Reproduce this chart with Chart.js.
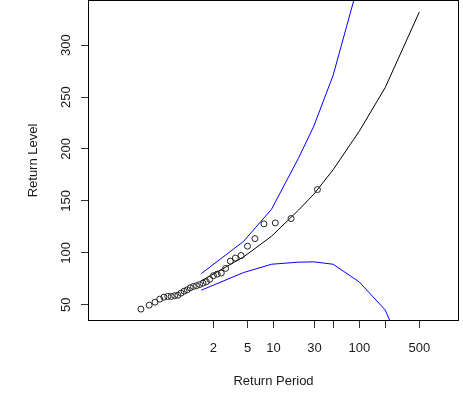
<!DOCTYPE html>
<html>
<head>
<meta charset="utf-8">
<script src="https://cdn.jsdelivr.net/npm/chart.js@4"></script>
<style>
  html, body { margin: 0; padding: 0; background: #fff; }
  #wrap { width: 463px; height: 395px; }
</style>
</head>
<body>
<div id="wrap"><canvas id="rlPlot" width="463" height="395"></canvas></div>
<script>
// return level curve, plotted at -1/log(1 - 1/T) for T = 2, 5, 10, 20, 30, 50, 100, 200, 500
const curvePeriods = [1.443, 4.481, 9.491, 19.496, 29.497, 49.498, 99.499, 199.5, 499.5];
const returnLevel = [73, 96, 116, 141, 156.5, 180, 217, 259, 332];
const upperCI = [80, 111, 142, 191, 222, 271, 362, 473, 694];
const lowerCI = [64, 81, 89, 91, 91.3, 89, 72, 45, -30];

// empirical plotting positions and sorted observations
const empPeriods = [0.286, 0.357, 0.417, 0.474, 0.530, 0.587, 0.645, 0.706, 0.770, 0.838,
  0.910, 0.989, 1.073, 1.166, 1.268, 1.381, 1.508, 1.650, 1.811, 1.997, 2.212, 2.466,
  2.770, 3.140, 3.602, 4.194, 4.983, 6.086, 7.738, 10.492, 15.997, 32.498];
const empLevels = [45.8, 49.6, 52.5, 55.4, 57.3, 58.0, 58.0, 58.7, 59.2, 61.2,
  63.1, 64.4, 66.3, 67.6, 68.3, 69.5, 70.8, 72.1, 74.5, 78.0, 79.5, 80.5,
  85.0, 92.0, 95.0, 97.4, 106.4, 113.7, 127.9, 128.8, 133.0, 160.9];

const xTicks = [2, 5, 10, 30, 50, 100, 200, 500];
const xTickLabels = ["2", "5", "10", "30", "", "100", "", "500"];
const yTicks = [50, 100, 150, 200, 250, 300];

const FONT = "13px 'Liberation Sans', Arial, sans-serif";
const TEXT = "#1a1a1a";

const pairs = (xs, ys) => xs.map((x, i) => ({ x: x, y: ys[i] }));

// R-style frame, rotated y labels and axis titles
const rDecor = {
  id: "rDecor",
  afterDraw(chart) {
    const { ctx, chartArea: a, scales } = chart;
    ctx.save();
    ctx.strokeStyle = "#000";
    ctx.lineWidth = 1;
    ctx.strokeRect(a.left + 0.5, a.top + 0.5, a.right - a.left - 1, a.bottom - a.top - 1);

    ctx.fillStyle = TEXT;
    ctx.font = FONT;
    ctx.textAlign = "center";
    ctx.textBaseline = "alphabetic";
    xTicks.forEach((v, i) => {
      if (!xTickLabels[i]) return;
      ctx.fillText(xTickLabels[i], scales.x.getPixelForValue(v), 351.5);
    });
    ctx.fillText("Return Period", (a.left + a.right) / 2, 384.5);

    yTicks.forEach(v => {
      ctx.save();
      ctx.translate(69.5, scales.y.getPixelForValue(v));
      ctx.rotate(-Math.PI / 2);
      ctx.fillText(String(v), 0, 0);
      ctx.restore();
    });
    ctx.translate(36.5, (a.top + a.bottom) / 2);
    ctx.rotate(-Math.PI / 2);
    ctx.fillText("Return Level", 0, 0);
    ctx.restore();
  }
};

new Chart(document.getElementById("rlPlot"), {
  type: "scatter",
  data: {
    datasets: [
      {
        label: "Observed",
        data: pairs(empPeriods, empLevels),
        showLine: false,
        pointRadius: 3,
        pointBorderWidth: 1,
        pointBackgroundColor: "rgba(0,0,0,0)",
        pointBorderColor: "#222",
      },
      {
        label: "Return level",
        data: pairs(curvePeriods, returnLevel),
        showLine: true,
        pointRadius: 0,
        borderColor: "#000",
        borderWidth: 1,
      },
      {
        label: "Upper 95%",
        data: pairs(curvePeriods, upperCI),
        showLine: true,
        pointRadius: 0,
        borderColor: "#0000ff",
        borderWidth: 1,
      },
      {
        label: "Lower 95%",
        data: pairs(curvePeriods, lowerCI),
        showLine: true,
        pointRadius: 0,
        borderColor: "#0000ff",
        borderWidth: 1,
      },
    ],
  },
  options: {
    responsive: false,
    animation: false,
    devicePixelRatio: 1,
    layout: { autoPadding: false, padding: { top: 0, right: 4, bottom: 0, left: 0 } },
    plugins: {
      legend: { display: false },
      tooltip: { enabled: false },
    },
    scales: {
      x: {
        type: "logarithmic",
        min: 0.0692,
        max: 1445,
        afterBuildTicks: (scale) => { scale.ticks = xTicks.map(v => ({ value: v })); },
        afterFit: (scale) => { scale.height = 74; },
        ticks: { display: false },
        border: { display: false },
        grid: { drawOnChartArea: false, drawTicks: true, tickLength: 7, color: "#333" },
      },
      y: {
        type: "linear",
        min: 34.35,
        max: 343.45,
        afterBuildTicks: (scale) => { scale.ticks = yTicks.map(v => ({ value: v })); },
        afterFit: (scale) => { scale.width = 88; },
        ticks: { display: false },
        border: { display: false },
        grid: { drawOnChartArea: false, drawTicks: true, tickLength: 7, color: "#333" },
      },
    },
  },
  plugins: [rDecor],
});
</script>
</body>
</html>
